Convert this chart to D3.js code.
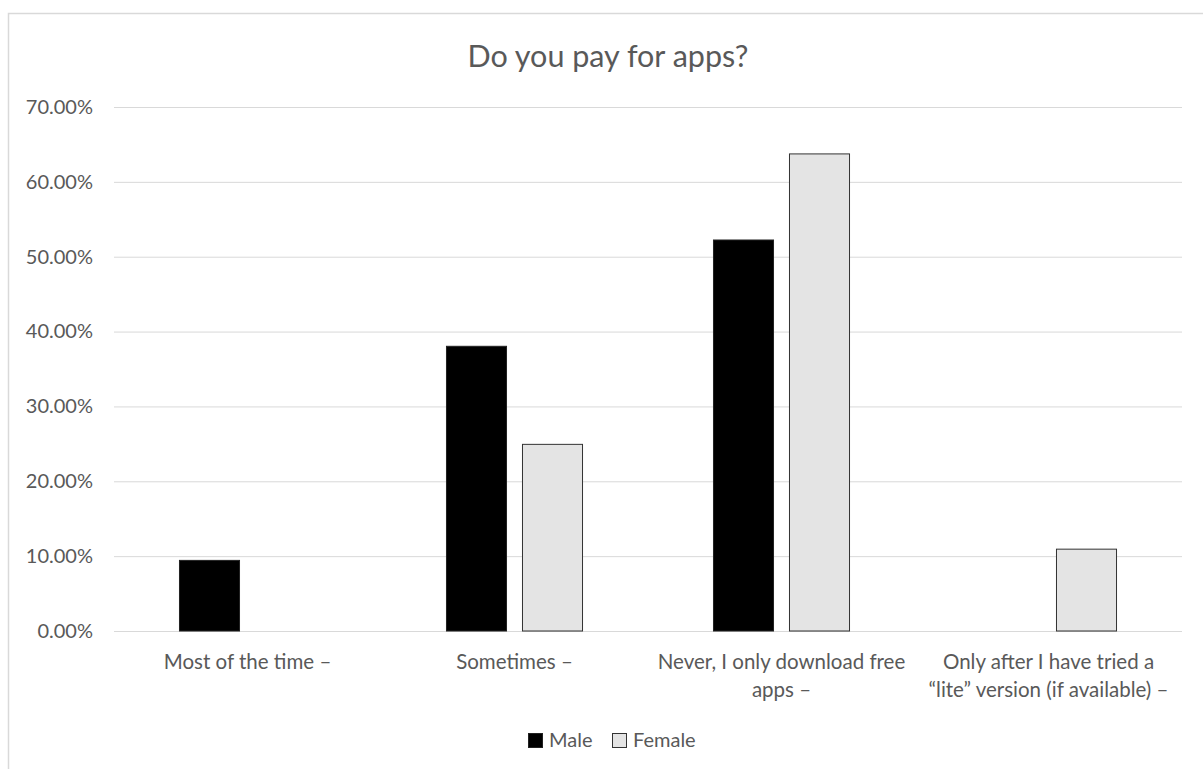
<!DOCTYPE html>
<html><head><meta charset="utf-8">
<script src="https://cdn.jsdelivr.net/npm/d3@7"></script>
<style>body{margin:0;background:#fff;} svg{display:block;} text{font-family:Lato,"Open Sans",sans-serif;}</style>
</head><body>
<svg id="chart" width="1203" height="769"></svg>
<script>
const categories = [["Most of the time \u2013"], ["Sometimes \u2013"], ["Never, I only download free", "apps \u2013"], ["Only after I have tried a", "\u201clite\u201d version (if available) \u2013"]];
const seriesNames = ["Male", "Female"];
const maleValues = [0.095, 0.381, 0.523, 0];
const femaleValues = [0, 0.250, 0.638, 0.110];
const yTicks = [0, 0.1, 0.2, 0.3, 0.4, 0.5, 0.6, 0.7];
const colors = {Male: "#000000", Female: "#e4e4e4"};
const strokes = {Male: "#222", Female: "#333"};

(function () {
const svg = d3.select("#chart");
// frame
svg.append("rect").attr("x", 8.5).attr("y", 13.5).attr("width", 1210).attr("height", 800)
  .attr("fill", "none").attr("stroke", "#d9d9d9").attr("stroke-width", 1.5);

const mLeft = 114, mRight = 1182, mTop = 107, mBottom = 631;
const x0 = d3.scaleBand().domain(d3.range(categories.length)).range([mLeft, mRight]).padding(0);
const x1 = d3.scaleBand().domain(seriesNames).range([0, x0.bandwidth()]).paddingInner(0.197).paddingOuter(0.855);
const y = d3.scaleLinear().domain([0, 0.7]).range([mBottom, mTop]);

// grid
const yAxis = d3.axisLeft(y).tickValues(yTicks).tickSize(-(mRight - mLeft)).tickPadding(21)
  .tickFormat(d => (d * 100).toFixed(2) + "%");
const gy = svg.append("g").attr("transform", `translate(${mLeft},0)`).call(yAxis);
gy.select(".domain").remove();
gy.selectAll(".tick line").attr("stroke", "#d9d9d9").attr("stroke-width", 1);
gy.selectAll(".tick text").attr("fill", "#595959").style("font-size", "20px").style("font-family", "Lato, sans-serif");

const data = categories.map((c, i) => ({i, values: [{s: "Male", v: maleValues[i]}, {s: "Female", v: femaleValues[i]}]}));
const groups = svg.append("g").selectAll("g").data(data).join("g")
  .attr("transform", d => `translate(${x0(d.i)},0)`);
groups.selectAll("rect").data(d => d.values.filter(e => e.v > 0)).join("rect")
  .attr("x", e => x1(e.s) + 0.5).attr("width", x1.bandwidth() - 1)
  .attr("y", e => y(e.v) + 0.5).attr("height", e => y(0) - y(e.v) - 0.5)
  .attr("fill", e => colors[e.s]).attr("stroke", e => strokes[e.s]).attr("stroke-width", 1);

// x labels
const xl = svg.append("g");
categories.forEach((lines, i) => {
  const cx = x0(i) + x0.bandwidth() / 2;
  const t = xl.append("text").attr("x", cx).attr("y", 669)
    .attr("text-anchor", "middle").attr("fill", "#595959").style("font-size", "20.5px");
  lines.forEach((ln, j) => t.append("tspan").attr("x", cx).attr("dy", j === 0 ? 0 : 28).text(ln));
});

// title
svg.append("text").attr("x", 608).attr("y", 67).attr("text-anchor", "middle")
  .attr("fill", "#595959").style("font-size", "30.5px").text("Do you pay for apps?");

// legend
const legend = svg.append("g");
const legItems = [{s: "Male", x: 528}, {s: "Female", x: 612}];
legItems.forEach(it => {
  legend.append("rect").attr("x", it.x + 0.5).attr("y", 733.5).attr("width", 14).attr("height", 14)
    .attr("fill", colors[it.s]).attr("stroke", strokes[it.s]);
  legend.append("text").attr("x", it.x + 21).attr("y", 747).attr("fill", "#595959")
    .style("font-size", "20px").text(it.s);
});
})();
</script>
</body></html>
